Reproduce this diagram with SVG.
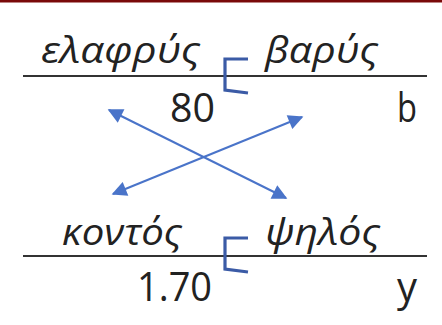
<svg xmlns="http://www.w3.org/2000/svg" width="442" height="325" viewBox="0 0 442 325">
<style>
.t{font-family:"Open Sans","Liberation Sans",sans-serif;font-size:40px;fill:#222}
.g{font-size:36px;font-style:italic}
.rule{stroke:#333;stroke-width:2.2}
.br{fill:none;stroke:#3b5ba6;stroke-width:3.2;stroke-linejoin:miter}
.ar{stroke:#4a74c9;stroke-width:2;fill:none}
</style>
<defs>
<marker id="ah" viewBox="0 0 10 10" refX="9" refY="5" markerWidth="8" markerHeight="7.5" markerUnits="strokeWidth" orient="auto-start-reverse">
<path d="M0,0 L10,5 L0,10 Z" fill="#4a74c9"/>
</marker>
</defs>
<rect x="0" y="0" width="442" height="2.5" fill="#7a0a0a"/>
<g id="row1">
<line class="rule" x1="23" y1="76" x2="427" y2="76"/>
<path class="br" d="M248,59 H225 V90 L248,93"/>
<text class="t g" x="41" y="63" textLength="159" lengthAdjust="spacingAndGlyphs">ελαφρύς</text>
<text class="t g" x="265" y="63" textLength="113" lengthAdjust="spacingAndGlyphs">βαρύς</text>
<text class="t" x="170" y="122" textLength="45" lengthAdjust="spacingAndGlyphs">80</text>
<text class="t" x="397" y="122" textLength="20" lengthAdjust="spacingAndGlyphs">b</text>
</g>
<g id="row2">
<line class="rule" x1="23" y1="256" x2="427" y2="256"/>
<path class="br" d="M248,238 H225 V269 L248,272"/>
<text class="t g" x="62" y="245" textLength="120" lengthAdjust="spacingAndGlyphs">κοντός</text>
<text class="t g" x="265" y="245" textLength="115" lengthAdjust="spacingAndGlyphs">ψηλός</text>
<text class="t" x="137" y="301" textLength="75" lengthAdjust="spacingAndGlyphs">1.70</text>
<text class="t" x="397" y="301" textLength="20" lengthAdjust="spacingAndGlyphs">y</text>
</g>
<g id="connectors">
<line class="ar" x1="109" y1="110" x2="286" y2="198" marker-start="url(#ah)" marker-end="url(#ah)"/>
<line class="ar" x1="302" y1="117" x2="113" y2="194" marker-start="url(#ah)" marker-end="url(#ah)"/>
</g>
</svg>
